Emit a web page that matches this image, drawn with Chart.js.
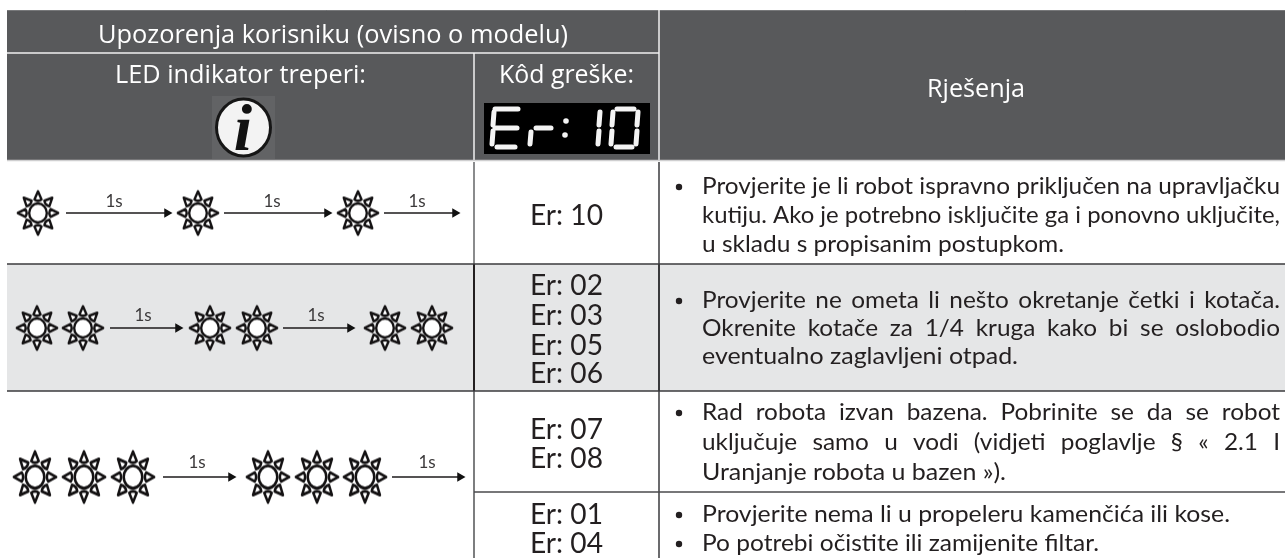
<!DOCTYPE html>
<html><head><meta charset="utf-8">
<style>html,body{margin:0;padding:0;background:#fff}canvas{display:block}</style>
<script src="https://cdn.jsdelivr.net/npm/chart.js@4"></script>
</head><body><canvas id="c" width="1285" height="558"></canvas>
<script>
// ---- content ----
const titleLeft = "Upozorenja korisniku (ovisno o modelu)";
const headLed = "LED indikator treperi:";
const headCode = "Kôd greške:";
const headFix = "Rješenja";
const infoGlyph = "i";
const intervalLabel = "1s";
const row1Codes = ["Er: 10"];
const row2Codes = ["Er: 02","Er: 03","Er: 05","Er: 06"];
const row3Codes = ["Er: 07","Er: 08"];
const row4Codes = ["Er: 01","Er: 04"];
const row1Fix = ["Provjerite je li robot ispravno priključen na upravljačku","kutiju. Ako je potrebno isključite ga i ponovno uključite,","u skladu s propisanim postupkom."];
const row2Fix = ["Provjerite ne ometa li nešto okretanje četki i kotača.","Okrenite kotače za 1/4 kruga kako bi se oslobodio","eventualno zaglavljeni otpad."];
const row3Fix = ["Rad robota izvan bazena. Pobrinite se da se robot","uključuje samo u vodi (vidjeti poglavlje § « 2.1 I","Uranjanje robota u bazen »)."];
const row4Fix = ["Provjerite nema li u propeleru kamenčića ili kose.","Po potrebi očistite ili zamijenite filtar."];

// ---- marks in the LED column (scale units = reference pixels) ----
const sunsSmall = [[38,213],[198,213],[358,213],[37,328],[83,328],[210,328],[257,328],[385,328],[432,328]];
const sunsLarge = [[35,477],[84,477],[133,477],[268,477],[317,477],[365,477]];
const arrows = [[66,172,213],[224,332,213],[384,460,213],[110,183,328],[283,355,328],[163,236,477],[392,465,477]];
const arrowLabels = [[114,207],[272,207],[417,207],[143,321],[316,321],[197,468],[427,468]];

// ---- layout ----
const L = {left:7,right:1285,top:10,titleLine:53,headBottom:160,col1:474,col2:659,r1:264,r2:391,r3:492,bottom:558};
const FONT = 'Lato, "Open Sans", sans-serif';
const HEAD_FONT = '"Open Sans", Lato, sans-serif';

function sunImage(Rx,Ry){
  const R = 24, w = Math.ceil(Rx*2+4), h = Math.ceil(Ry*2+4), cv = document.createElement('canvas');
  cv.width = w; cv.height = h;
  const g = cv.getContext('2d');
  g.translate(w/2,h/2); g.scale(Rx/R,Ry/R);
  g.strokeStyle = '#141213'; g.lineJoin = 'round';
  g.lineWidth = 2.7;
  g.fillStyle = '#ffffff';
  g.beginPath(); g.arc(0,0,R*.42,0,Math.PI*2); g.fill(); g.stroke();
  for(let i=0;i<8;i++){
    g.save(); g.rotate(i*Math.PI/4);
    g.beginPath();
    g.moveTo(-R*.17,-R*.6); g.lineTo(0,-R*.96); g.lineTo(R*.17,-R*.6);
    g.quadraticCurveTo(0,-R*.48,-R*.17,-R*.6); g.closePath();
    g.fill(); g.stroke(); g.restore();
  }
  return cv;
}
const pts = a => a.map(p => ({x:p[0],y:p[1]}));
const datasets = [
  {type:'scatter',data:pts(sunsSmall),pointStyle:sunImage(21,22.5),pointRadius:22,showLine:false,order:1},
  {type:'scatter',data:pts(sunsLarge),pointStyle:sunImage(22,26.5),pointRadius:26,showLine:false,order:1}
];
arrows.forEach(a => datasets.push({
  type:'scatter',showLine:true,data:[{x:a[0],y:a[2]},{x:a[1]-5,y:a[2]}],
  borderColor:'#1c1a1b',borderWidth:1.4,pointStyle:'triangle',pointRotation:90,
  pointRadius:[0,5.5],pointBorderWidth:0,pointBackgroundColor:'#111',order:2
}));

// seven-segment display strokes inside the black box
const segs = [
 [495,109,518,109],[495,128,517,128],[497,147,515,147],[494,112,493,125],[493,131,492,144],
 [531,132,530,144],[536,128,551,128],
 [600,112,599,125],[599,131,598,144],
 [617,109,634,109],[616,147,632,147],[613,112,612,125],[612,131,611,144],[638,112,637,125],[637,131,636,144]
];
const dots = [[566,121],[565,135]];

const tablePlugin = {
  id:'table',
  beforeDatasetsDraw(chart){
    const g = chart.ctx, X = v=>chart.scales.x.getPixelForValue(v), Y = v=>chart.scales.y.getPixelForValue(v);
    const rect = (x0,y0,x1,y1,c)=>{g.fillStyle=c;g.fillRect(X(x0),Y(y0),X(x1)-X(x0),Y(y1)-Y(y0));};
    const line = (x0,y0,x1,y1,c,w)=>{g.strokeStyle=c;g.lineWidth=w;g.lineCap='butt';g.beginPath();g.moveTo(X(x0),Y(y0));g.lineTo(X(x1),Y(y1));g.stroke();};
    // fills
    rect(L.left,L.top,L.right,L.headBottom,'#58595b');
    rect(L.left,L.r1,L.right,L.r2,'#e5e6e7');
    // header rules
    line(L.left,L.top+.5,L.right,L.top+.5,'#77787a',1);
    line(L.left,L.titleLine,L.col2,L.titleLine,'#f0f0f0',1.5);
    line(L.col1,L.titleLine,L.col1,L.headBottom,'#f0f0f0',1.5);
    line(L.col2,L.top,L.col2,L.headBottom,'#f0f0f0',1.5);
    line(L.left,L.headBottom+.5,L.right,L.headBottom+.5,'#cfcfd0',1.6);
    // body rules
    line(L.col1,162,L.col1,L.r1,'#6d6e70',1.6);
    line(L.col2,162,L.col2,L.r1,'#3a3a3c',1.5);
    line(L.col1,L.r1,L.col1,L.r2,'#231f20',2);
    line(L.col2,L.r1,L.col2,L.r2,'#3a3a3c',2);
    line(L.col1,L.r2,L.col1,L.bottom,'#5c5d5f',1.6);
    line(L.col2,L.r2,L.col2,L.bottom,'#3a3a3c',1.5);
    line(L.left,L.r1,L.right,L.r1,'#3a3a3c',1.6);
    line(L.left,L.r2,L.right,L.r2,'#3a3a3c',1.6);
    line(L.col1,L.r3,L.right,L.r3,'#4a4a4c',1.4);
    // info icon
    rect(212,96,275,159,'#626365');
    g.fillStyle='#f3f3f3';g.strokeStyle='#161616';g.lineWidth=3;
    g.beginPath();g.ellipse(X(243.5),Y(127.5),27,28.5,0,0,Math.PI*2);g.fill();g.stroke();
    g.fillStyle='#111';g.font='italic bold 66px "Liberation Serif", serif';g.textAlign='center';g.textBaseline='alphabetic';
    g.fillText(infoGlyph,X(243),Y(150));
    // seven segment box
    rect(484,103,650,154,'#000');
    g.strokeStyle='#f4f4f4';g.lineWidth=5;g.lineCap='round';
    segs.forEach(s=>{g.beginPath();g.moveTo(X(s[0]),Y(s[1]));g.lineTo(X(s[2]),Y(s[3]));g.stroke();});
    g.fillStyle='#f4f4f4';
    dots.forEach(d=>{g.beginPath();g.arc(X(d[0]),Y(d[1]),2.8,0,Math.PI*2);g.fill();});
    // text helpers
    const fit=(t,x0,x1,base,size,color,justSx,font)=>{
      g.save();
      g.font=`${size}px ${font||FONT}`;g.fillStyle=color;g.textAlign='left';g.textBaseline='alphabetic';
      g.wordSpacing='0px';
      const nat=g.measureText(t).width, target=X(x1)-X(x0);
      let sx=target/nat;
      if(justSx){
        sx=justSx;
        const n=t.split(' ').length-1;
        g.wordSpacing=((target/sx-nat)/n)+'px';
      }
      g.translate(X(x0),Y(base));g.scale(sx,1);g.fillText(t,0,0);
      g.restore();
    };
    const mid=(t,cx,w,base,size,color,font)=>fit(t,cx-w/2,cx+w/2,base,size,color,0,font);
    // header text
    mid(titleLeft,333,470,43,25,'#fff',HEAD_FONT);
    mid(headLed,240.5,251,83,25,'#fff',HEAD_FONT);
    mid(headCode,566.5,135,83,25,'#fff',HEAD_FONT);
    mid(headFix,976,98,97,25,'#fff',HEAD_FONT);
    // interval labels
    g.fillStyle='#3c3a3b';g.font=`17px ${FONT}`;g.textAlign='center';
    arrowLabels.forEach(p=>g.fillText(intervalLabel,X(p[0]),Y(p[1])));
    // codes
    const ink='#231f20', cW=73;
    [[row1Codes,[225]],[row2Codes,[295,325,355,383]],[row3Codes,[439,468]],[row4Codes,[524,553]]]
      .forEach(([arr,bases])=>arr.forEach((t,i)=>mid(t,566.5,cW,bases[i],29,ink)));
    // solutions
    const tx=702, size=24;
    const bullet=(y)=>{g.fillStyle=ink;g.beginPath();g.arc(X(679),Y(y),3.2,0,Math.PI*2);g.fill();};
    g.font=`${size}px ${FONT}`;g.wordSpacing='0px';
    const jsx=(1280-tx)/g.measureText(row1Fix[0]).width;
    bullet(187);
    fit(row1Fix[0],tx,1280,194,size,ink);
    fit(row1Fix[1],tx,1280,223,size,ink);
    fit(row1Fix[2],tx,1064,252,size,ink);
    bullet(301);
    fit(row2Fix[0],tx,1280,308,size,ink,jsx);
    fit(row2Fix[1],tx,1280,336,size,ink,jsx);
    fit(row2Fix[2],tx,1018,364,size,ink);
    bullet(413);
    fit(row3Fix[0],tx,1280,420,size,ink,jsx);
    fit(row3Fix[1],tx,1280,450,size,ink,jsx);
    fit(row3Fix[2],tx,1006,480,size,ink);
    bullet(515);
    fit(row4Fix[0],tx,1230,522,size,ink);
    bullet(544);
    fit(row4Fix[1],tx,1099,551,size,ink);
  }
};

new Chart(document.getElementById('c'),{
  type:'scatter',
  data:{datasets},
  options:{
    responsive:false,animation:false,
    layout:{padding:0,autoPadding:false},
    plugins:{legend:{display:false},tooltip:{enabled:false},title:{display:false}},
    events:[],
    scales:{
      x:{type:'linear',min:0,max:1285,display:false},
      y:{type:'linear',min:0,max:558,reverse:true,display:false}
    },
    clip:false
  },
  plugins:[tablePlugin]
});
</script></body></html>
